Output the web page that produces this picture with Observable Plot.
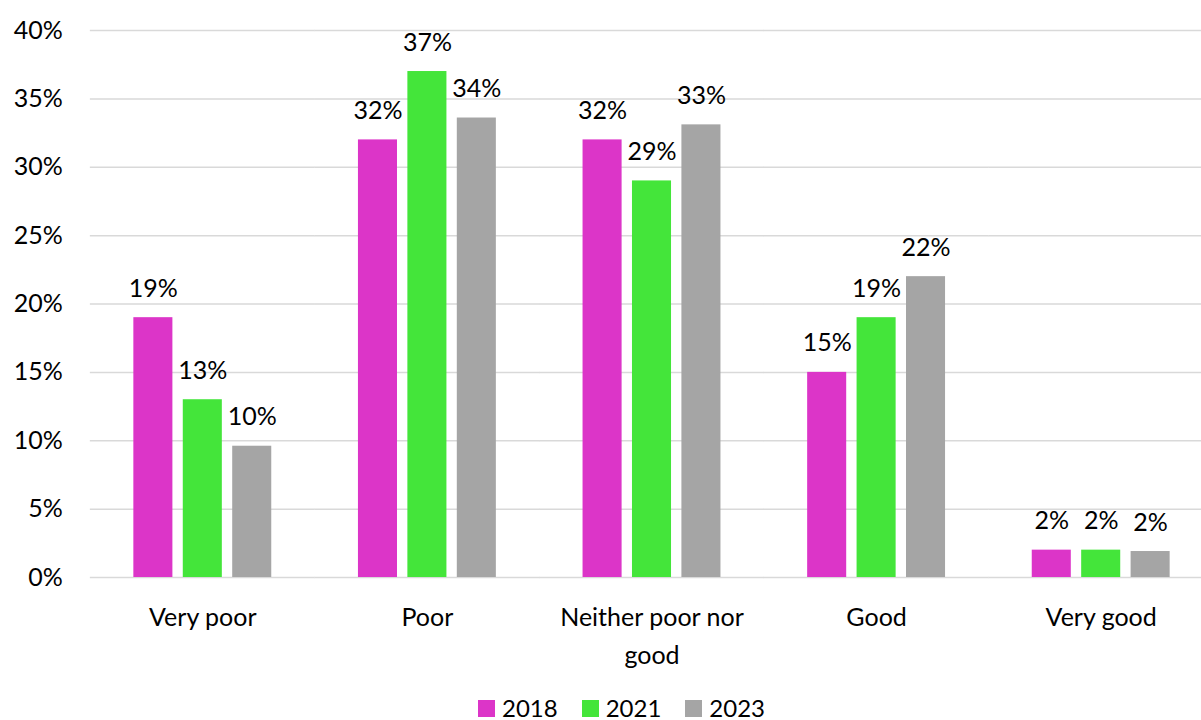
<!DOCTYPE html>
<html>
<head>
<meta charset="utf-8">
<script src="https://cdn.jsdelivr.net/npm/d3@7"></script>
<script src="https://cdn.jsdelivr.net/npm/@observablehq/plot@0.6"></script>
<style>
  html, body { margin: 0; padding: 0; background: #fff; }
  body { width: 1201px; height: 720px; overflow: hidden; font-family: Lato, "Open Sans", sans-serif; }
  #legend { display: flex; justify-content: center; align-items: center; margin-top: 8px; font-size: 24px; line-height: 24px; color: #000; padding-left: 42px; }
  #legend .item { display: flex; align-items: center; margin: 0 12px; }
  #legend .sw { width: 17px; height: 17px; margin-right: 7px; display: inline-block; }
</style>
</head>
<body>
<div id="chart"></div>
<div id="legend"></div>
<script>
const categories = ["Very poor", "Poor", "Neither poor nor good", "Good", "Very good"];
const categoryLabels = ["Very poor", "Poor", "Neither poor nor\ngood", "Good", "Very good"];
const years = ["2018", "2021", "2023"];
const values2018 = [19, 32, 32, 15, 2];
const values2021 = [13, 37, 29, 19, 2];
const values2023 = [9.6, 33.6, 33.1, 22, 1.9];
const colors = ["#DC35C8", "#44E53A", "#A5A5A5"];
const yTicks = [0, 5, 10, 15, 20, 25, 30, 35, 40];

const series = [values2018, values2021, values2023];
const data = [];
categories.forEach((c, i) => {
  years.forEach((y, j) => data.push({category: c, year: y, value: series[j][i]}));
});

const fontSize = 25;
const chart = Plot.plot({
  width: 1201,
  height: 688,
  marginLeft: 90,
  marginRight: -12,
  marginTop: 30,
  marginBottom: 111,
  style: {fontFamily: "Lato, 'Open Sans', sans-serif", fontSize: fontSize + "px", color: "#000", background: "#fff", overflow: "hidden"},
  fx: {domain: categories, paddingInner: 0.386, paddingOuter: 0.193, round: false, label: null},
  x: {domain: years, paddingInner: 0.21, paddingOuter: 0, round: false, axis: null},
  y: {domain: [0, 40], label: null},
  color: {domain: years, range: colors},
  marks: [
    Plot.ruleY(yTicks, {stroke: "#D9D9D9", strokeWidth: 1.5, insetLeft: -43.5, insetRight: -43.5}),
    Plot.axisY({ticks: yTicks, tickSize: 0, tickPadding: 71, tickFormat: d => d + "%", fontSize, label: null}),
    Plot.barY(data, {fx: "category", x: "year", y: "value", fill: "year"}),
    Plot.text(data, {fx: "category", x: "year", y: "value", text: d => Math.round(d.value) + "%", dy: -21, lineAnchor: "bottom", fontSize, fill: "#000"}),
    Plot.axisFx({anchor: "bottom", tickSize: 0, tickPadding: 22, label: null, fontSize, lineHeight: 1.5, tickFormat: d => categoryLabels[categories.indexOf(d)]})
  ]
});
document.getElementById("chart").appendChild(chart);

const legend = document.getElementById("legend");
years.forEach((y, i) => {
  const item = document.createElement("span");
  item.className = "item";
  const sw = document.createElement("span");
  sw.className = "sw";
  sw.style.background = colors[i];
  item.appendChild(sw);
  item.appendChild(document.createTextNode(y));
  legend.appendChild(item);
});
</script>
</body>
</html>
